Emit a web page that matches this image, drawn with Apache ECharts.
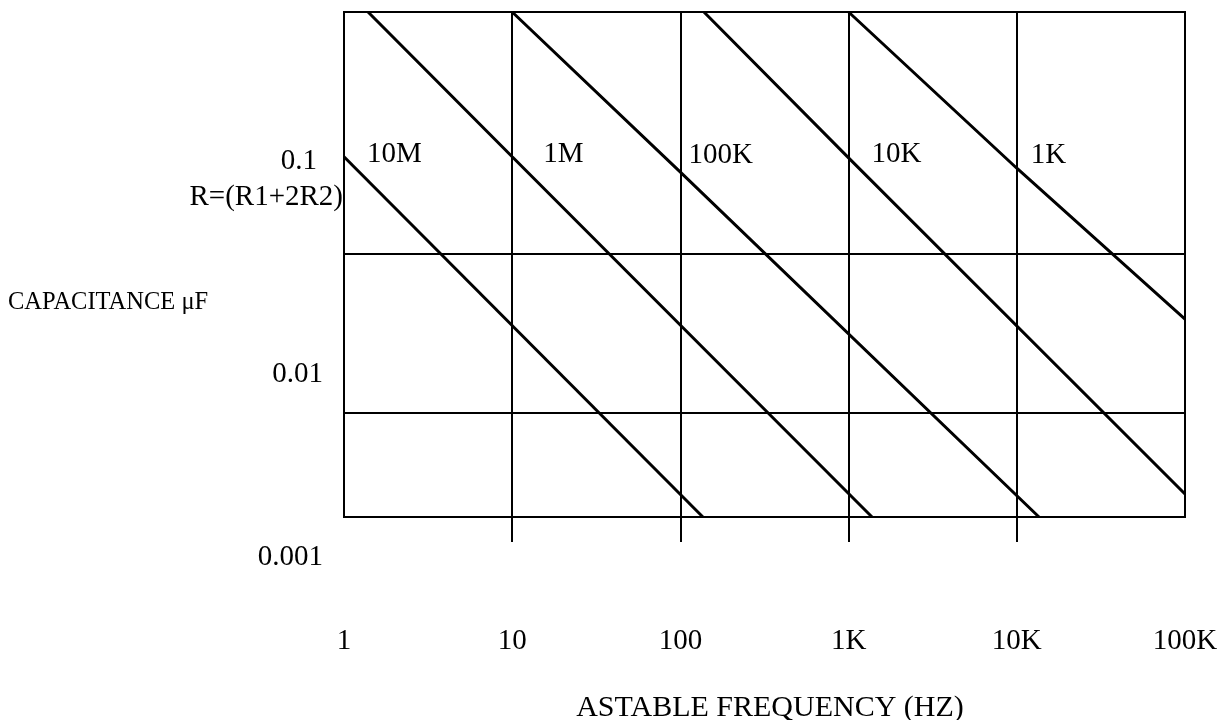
<!DOCTYPE html>
<html><head><meta charset="utf-8">
<script src="https://cdn.jsdelivr.net/npm/echarts@6/dist/echarts.min.js"></script>
<style>html,body{margin:0;padding:0;background:#fff}#chart{width:1218px;height:720px}</style>
</head><body><div id="chart"></div>
<script>
// ---- data ----
const xTickValues = [1, 10, 100, 1000, 10000, 100000];
const xTickLabels = ['1', '10', '100', '1K', '10K', '100K'];
const yTickLabels = ['0.1', '0.01', '0.001'];
const resistorLabels = ['10M', '1M', '100K', '10K', '1K'];
// each R line: [frequency Hz, capacitance uF] points (start, decade crossing, end)
const line10M = [[1, 0.138], [136, 0.001]];
const line1M = [[1.39, 1], [10, 0.138], [1378, 0.001]];
const line100K = [[10, 1], [100, 0.112], [13550, 0.001]];
const line10K = [[138, 1], [1000, 0.136], [100000, 0.00137]];
const line1K = [[1000, 1], [10000, 0.118], [100000, 0.0150]];
const guideC = [0.0365, 0.00415];

// ---- presentation ----
const FONT = '"Liberation Serif", "Times New Roman", serif';
const lines = [line10M, line1M, line100K, line10K, line1K];
const labelAt = [0, 1, 1, 1, 1];
const labelOffset = [[23, -2], [31, -2], [8, -17], [23, -3], [14, -13]];

const series = lines.map((pts, i) => ({
  type: 'line',
  name: resistorLabels[i],
  data: pts.map((p, j) => ({
    value: p,
    label: {
      show: j === labelAt[i], formatter: resistorLabels[i], position: 'right',
      distance: 0, offset: labelOffset[i], color: '#000', fontFamily: FONT, fontSize: 29
    }
  })),
  symbol: 'circle', symbolSize: 0, showSymbol: true,
  lineStyle: { color: '#000', width: 3 },
  itemStyle: { color: '#000' },
  silent: true, animation: false, clip: true, z: 3
}));
guideC.forEach(c => {
  series.push({
    type: 'line', name: 'guide',
    data: [[xTickValues[0], c], [xTickValues[xTickValues.length - 1], c]],
    symbol: 'none', lineStyle: { color: '#000', width: 2 },
    silent: true, animation: false, z: 2
  });
});

const yLabelPos = [[317, 161], [323, 374], [323, 557]];
const graphic = yTickLabels.map((t, i) => ({
  type: 'text', x: yLabelPos[i][0], y: yLabelPos[i][1],
  style: { text: t, align: 'right', verticalAlign: 'middle', fontSize: 29, fontFamily: FONT, fill: '#000' }
}));
graphic.push({
  type: 'text', x: 343, y: 197,
  style: { text: 'R=(R1+2R2)', align: 'right', verticalAlign: 'middle', fontSize: 29, fontFamily: FONT, fill: '#000' }
});
graphic.push({
  type: 'text', x: 8, y: 303,
  style: { text: 'CAPACITANCE \u03bcF', align: 'left', verticalAlign: 'middle', fontSize: 24.5, fontFamily: FONT, fill: '#000' }
});

const chart = echarts.init(document.getElementById('chart'), null, { renderer: 'canvas' });
chart.setOption({
  animation: false,
  backgroundColor: '#fff',
  grid: {
    left: 344, right: 33, top: 12, bottom: 203, show: true, borderColor: '#000', borderWidth: 2,
    backgroundColor: 'transparent', outerBoundsMode: 'none', containLabel: false
  },
  xAxis: {
    type: 'log', logBase: 10, min: 1, max: 100000,
    axisLine: { show: false },
    axisTick: { show: true, customValues: xTickValues.slice(1, -1), length: 25, inside: false, lineStyle: { color: '#000', width: 2 } },
    axisLabel: {
      customValues: xTickValues, margin: 110, fontSize: 29, fontFamily: FONT, color: '#000',
      formatter: v => xTickLabels[Math.round(Math.log10(v))]
    },
    splitLine: { show: true, lineStyle: { color: '#000', width: 2 } },
    name: 'ASTABLE FREQUENCY (HZ)', nameLocation: 'middle', nameGap: 176,
    nameTextStyle: { fontSize: 30, fontFamily: FONT, color: '#000', padding: [0, 0, 0, 11] }
  },
  yAxis: {
    type: 'log', logBase: 10, min: 0.001, max: 1,
    axisLine: { show: false }, axisTick: { show: false }, axisLabel: { show: false }, splitLine: { show: false }
  },
  graphic: graphic,
  series: series
});
</script></body></html>
